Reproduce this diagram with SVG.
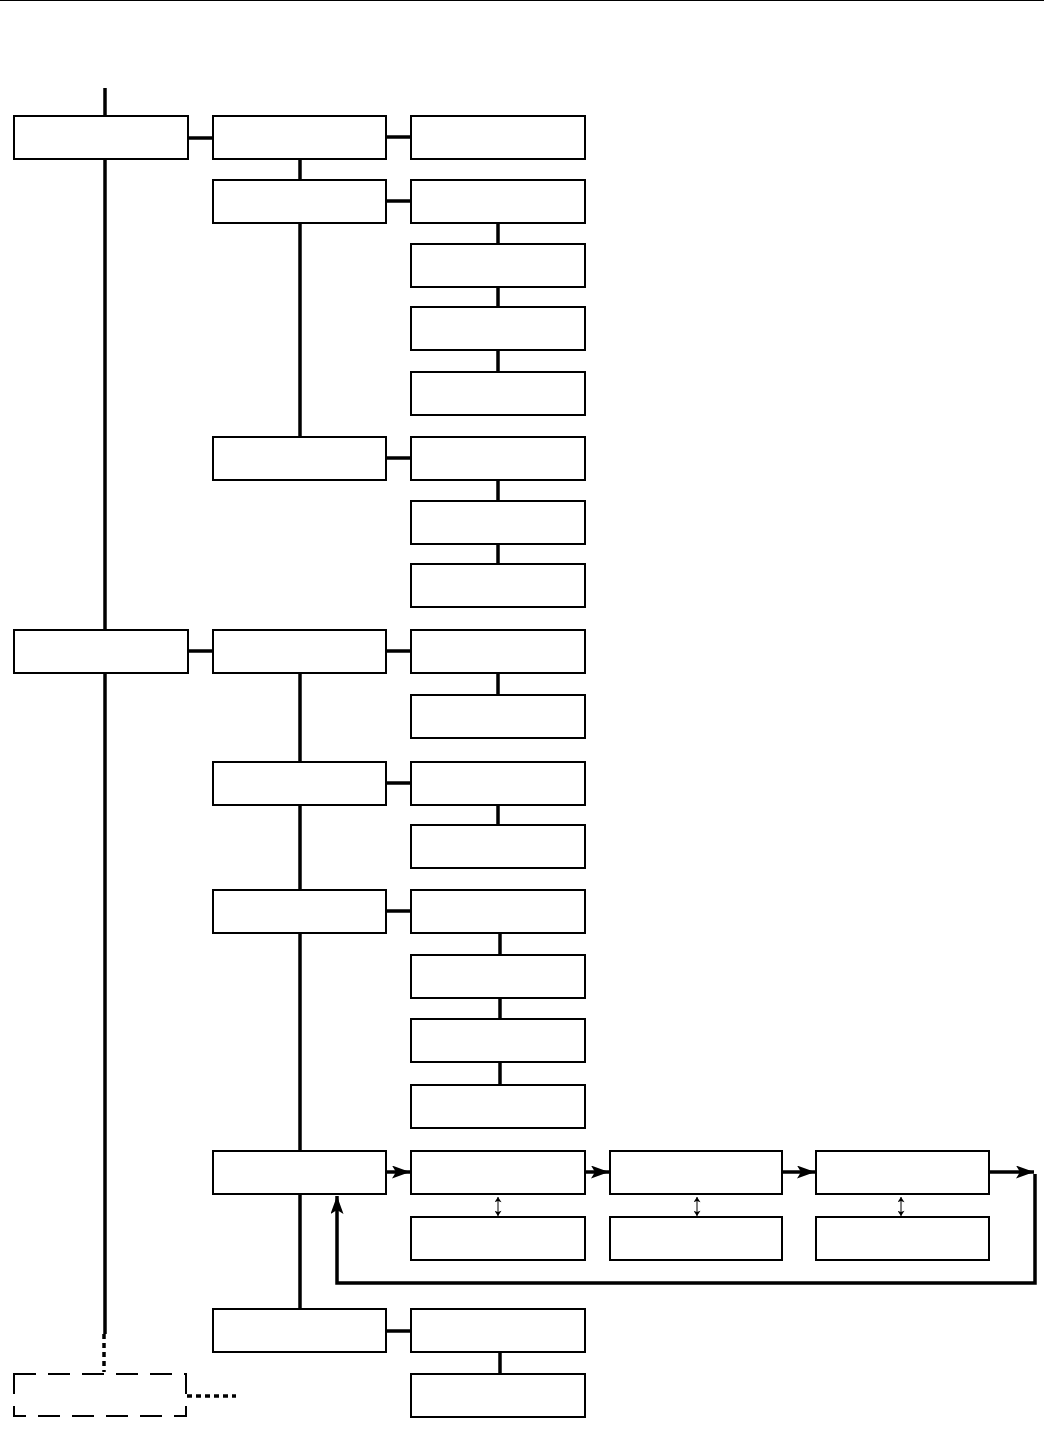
<svg xmlns="http://www.w3.org/2000/svg" width="1044" height="1435" viewBox="0 0 1044 1435">
<style>
.n{fill:#fff;stroke:#000;stroke-width:2}
.d{fill:none;stroke:#000;stroke-width:2;stroke-dasharray:22,12}
.c{fill:none;stroke:#000;stroke-width:3.5}
.t{fill:none;stroke:#000;stroke-width:1}
.dot{fill:none;stroke:#000;stroke-width:3.5;stroke-dasharray:5,4}
</style>
<defs>
<marker id="ah" viewBox="0 0 18 13" refX="18" refY="6.5" markerWidth="18" markerHeight="13" markerUnits="userSpaceOnUse" orient="auto">
<path d="M0,0 L18,6.5 L0,13 L4,6.5 Z" fill="#000"/>
</marker>
<marker id="sh" viewBox="0 0 6 8" refX="6" refY="4" markerWidth="6" markerHeight="7" markerUnits="userSpaceOnUse" orient="auto-start-reverse">
<path d="M0,0 L6,4 L0,8 L1.5,4 Z" fill="#000"/>
</marker>
</defs>
<line x1="0" y1="0.5" x2="1044" y2="0.5" stroke="#000" stroke-width="1"/>
<g id="connectors">
<line class="c" x1="105" y1="88" x2="105" y2="116"/>
<line class="c" x1="105" y1="159" x2="105" y2="630"/>
<line class="c" x1="105" y1="673" x2="105" y2="1334"/>
<line class="dot" x1="104" y1="1334" x2="104" y2="1372"/>
<line class="dot" x1="187" y1="1396" x2="236" y2="1396"/>
<line class="c" x1="188" y1="138" x2="213" y2="138"/>
<line class="c" x1="386" y1="137" x2="411" y2="137"/>
<line class="c" x1="300" y1="159" x2="300" y2="180"/>
<line class="c" x1="386" y1="201" x2="411" y2="201"/>
<line class="c" x1="300" y1="223" x2="300" y2="437"/>
<line class="c" x1="498" y1="223" x2="498" y2="244"/>
<line class="c" x1="498" y1="287" x2="498" y2="307"/>
<line class="c" x1="498" y1="350" x2="498" y2="372"/>
<line class="c" x1="386" y1="458" x2="411" y2="458"/>
<line class="c" x1="498" y1="480" x2="498" y2="501"/>
<line class="c" x1="498" y1="544" x2="498" y2="564"/>
<line class="c" x1="188" y1="651" x2="213" y2="651"/>
<line class="c" x1="386" y1="651" x2="411" y2="651"/>
<line class="c" x1="498" y1="673" x2="498" y2="695"/>
<line class="c" x1="300" y1="673" x2="300" y2="762"/>
<line class="c" x1="386" y1="783" x2="411" y2="783"/>
<line class="c" x1="498" y1="805" x2="498" y2="825"/>
<line class="c" x1="300" y1="805" x2="300" y2="890"/>
<line class="c" x1="386" y1="911" x2="411" y2="911"/>
<line class="c" x1="500" y1="933" x2="500" y2="955"/>
<line class="c" x1="500" y1="998" x2="500" y2="1019"/>
<line class="c" x1="500" y1="1062" x2="500" y2="1085"/>
<line class="c" x1="300" y1="933" x2="300" y2="1151"/>
<line class="c" x1="300" y1="1194" x2="300" y2="1309"/>
<line class="c" x1="386" y1="1172" x2="410" y2="1172" marker-end="url(#ah)"/>
<line class="c" x1="585" y1="1172" x2="609" y2="1172" marker-end="url(#ah)"/>
<line class="c" x1="782" y1="1172" x2="815" y2="1172" marker-end="url(#ah)"/>
<line class="c" x1="989" y1="1172" x2="1034" y2="1172" marker-end="url(#ah)"/>
<polyline class="c" points="1035,1174 1035,1283 337,1283 337,1196" marker-end="url(#ah)"/>
<line class="t" x1="498" y1="1197" x2="498" y2="1216" marker-start="url(#sh)" marker-end="url(#sh)"/>
<line class="t" x1="697" y1="1197" x2="697" y2="1216" marker-start="url(#sh)" marker-end="url(#sh)"/>
<line class="t" x1="901" y1="1197" x2="901" y2="1216" marker-start="url(#sh)" marker-end="url(#sh)"/>
<line class="c" x1="386" y1="1331" x2="411" y2="1331"/>
<line class="c" x1="500" y1="1352" x2="500" y2="1374"/>
</g>
<g id="n1"><rect class="n" x="14" y="116" width="174" height="43"/></g>
<g id="n2"><rect class="n" x="14" y="630" width="174" height="43"/></g>
<g id="n3"><rect class="d" x="14" y="1374" width="172" height="42"/></g>
<g id="n4"><rect class="n" x="213" y="116" width="173" height="43"/></g>
<g id="n5"><rect class="n" x="213" y="180" width="173" height="43"/></g>
<g id="n6"><rect class="n" x="213" y="437" width="173" height="43"/></g>
<g id="n7"><rect class="n" x="213" y="630" width="173" height="43"/></g>
<g id="n8"><rect class="n" x="213" y="762" width="173" height="43"/></g>
<g id="n9"><rect class="n" x="213" y="890" width="173" height="43"/></g>
<g id="n10"><rect class="n" x="213" y="1151" width="173" height="43"/></g>
<g id="n11"><rect class="n" x="213" y="1309" width="173" height="43"/></g>
<g id="n12"><rect class="n" x="411" y="116" width="174" height="43"/></g>
<g id="n13"><rect class="n" x="411" y="180" width="174" height="43"/></g>
<g id="n14"><rect class="n" x="411" y="244" width="174" height="43"/></g>
<g id="n15"><rect class="n" x="411" y="307" width="174" height="43"/></g>
<g id="n16"><rect class="n" x="411" y="372" width="174" height="43"/></g>
<g id="n17"><rect class="n" x="411" y="437" width="174" height="43"/></g>
<g id="n18"><rect class="n" x="411" y="501" width="174" height="43"/></g>
<g id="n19"><rect class="n" x="411" y="564" width="174" height="43"/></g>
<g id="n20"><rect class="n" x="411" y="630" width="174" height="43"/></g>
<g id="n21"><rect class="n" x="411" y="695" width="174" height="43"/></g>
<g id="n22"><rect class="n" x="411" y="762" width="174" height="43"/></g>
<g id="n23"><rect class="n" x="411" y="825" width="174" height="43"/></g>
<g id="n24"><rect class="n" x="411" y="890" width="174" height="43"/></g>
<g id="n25"><rect class="n" x="411" y="955" width="174" height="43"/></g>
<g id="n26"><rect class="n" x="411" y="1019" width="174" height="43"/></g>
<g id="n27"><rect class="n" x="411" y="1085" width="174" height="43"/></g>
<g id="n28"><rect class="n" x="411" y="1151" width="174" height="43"/></g>
<g id="n29"><rect class="n" x="411" y="1217" width="174" height="43"/></g>
<g id="n30"><rect class="n" x="411" y="1309" width="174" height="43"/></g>
<g id="n31"><rect class="n" x="411" y="1374" width="174" height="43"/></g>
<g id="n32"><rect class="n" x="610" y="1151" width="172" height="43"/></g>
<g id="n33"><rect class="n" x="610" y="1217" width="172" height="43"/></g>
<g id="n34"><rect class="n" x="816" y="1151" width="173" height="43"/></g>
<g id="n35"><rect class="n" x="816" y="1217" width="173" height="43"/></g>
</svg>
